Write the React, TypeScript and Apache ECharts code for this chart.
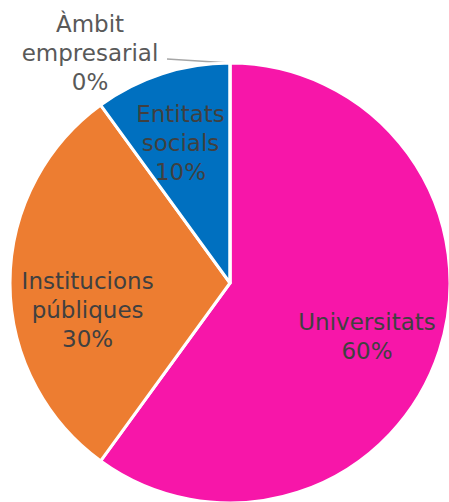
import React, { useEffect, useRef } from "react";
import * as echarts from "echarts";

const categories = ["Universitats", "Institucions\npúbliques", "Entitats\nsocials", "Àmbit\nempresarial"];
const values = [60, 30, 10, 0];
const colors = ["#F716A9", "#ED7D31", "#0070C0", "#A5A5A5"];

const FONT = "'DejaVu Sans', sans-serif";
const labelOffsets: Record<number, [number, number]> = {
  0: [-6, 7],
  1: [8, 27],
  2: [-3, 3],
};

export default function App() {
  const ref = useRef<HTMLDivElement>(null);
  useEffect(() => {
    const chart = echarts.init(ref.current!, undefined, { renderer: "svg" });
    const data = categories.map((name, i) => ({
      name,
      value: values[i],
      itemStyle: { color: colors[i] },
    }));
    const center = [230, 283];
    const R = 220;
    chart.setOption({
      animation: false,
      backgroundColor: "#ffffff",
      series: [
        {
          type: "pie",
          center,
          radius: [0, R],
          startAngle: 90,
          clockwise: true,
          avoidLabelOverlap: false,
          itemStyle: { borderColor: "#ffffff", borderWidth: 3 },
          data: data.map((d, i) => ({
            ...d,
            label:
              values[i] === 0
                ? {
                    show: true,
                    position: "outside",
                    formatter: "{b}\n{d}%",
                    color: "#595959",
                    fontFamily: FONT,
                    fontSize: 23,
                    lineHeight: 29,
                    align: "center",
                  }
                : { show: false },
            labelLine:
              values[i] === 0
                ? { show: true, lineStyle: { color: "#A6A6A6", width: 1.5 } }
                : { show: false },
          })),
          labelLayout: (params: any) => {
            if (params.dataIndex === 3) {
              return {
                x: 90,
                y: 53,
                align: "center",
                verticalAlign: "middle",
                labelLinePoints: [
                  [230, 63],
                  [167, 59],
                  [167, 59],
                ],
              };
            }
            return {};
          },
        },
        {
          type: "pie",
          center,
          radius: [R * 0.34, R],
          startAngle: 90,
          clockwise: true,
          silent: true,
          itemStyle: { color: "transparent", borderWidth: 0 },
          label: {
            show: true,
            position: "inside",
            formatter: "{b}\n{d}%",
            color: "#404040",
            fontFamily: FONT,
            fontSize: 23,
            lineHeight: 29,
            align: "center",
          },
          labelLine: { show: false },
          labelLayout: (params: any) => {
            const o = labelOffsets[params.dataIndex] || [0, 0];
            return { dx: o[0], dy: o[1] };
          },
          data: data.map((d, i) => ({
            name: d.name,
            value: d.value,
            label: { show: values[i] !== 0 },
          })),
        },
      ],
    });
    return () => chart.dispose();
  }, []);
  return (
    <div
      ref={ref}
      style={{ position: "fixed", left: 0, top: 0, width: 449, height: 502 }}
    />
  );
}
